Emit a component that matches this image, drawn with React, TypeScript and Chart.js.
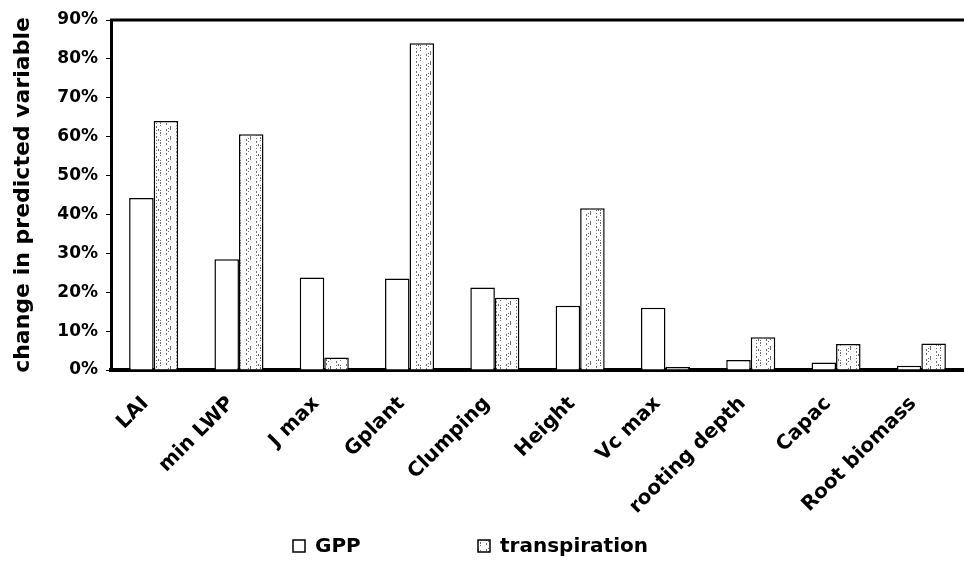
import React, { useEffect, useRef } from "react";
import { Chart, registerables } from "chart.js";

Chart.register(...registerables);

const categories = [
  "LAI",
  "min LWP",
  "J max",
  "Gplant",
  "Clumping",
  "Height",
  "Vc max",
  "rooting depth",
  "Capac",
  "Root biomass",
];
const gppValues = [44.2, 28.5, 23.8, 23.5, 21.2, 16.5, 16.0, 2.6, 1.9, 1.1];
const transpirationValues = [64.0, 60.6, 3.2, 84.0, 18.6, 41.6, 0.8, 8.4, 6.7, 6.8];
const seriesLabels = ["GPP", "transpiration"];
const yMin = 0;
const yMax = 90;
const yStep = 10;
const yTitle = "change in predicted variable";

const FONT = '"DejaVu Sans", "Liberation Sans", Arial, sans-serif';

function makeStipple(): CanvasPattern | string {
  const size = 40;
  const c = document.createElement("canvas");
  c.width = size;
  c.height = size;
  const g = c.getContext("2d");
  if (!g) return "#e0e0e0";
  g.fillStyle = "#ffffff";
  g.fillRect(0, 0, size, size);
  g.fillStyle = "#707070";
  for (let i = 0; i < 170; i++) {
    const x = (i * 37 + i * i * 13) % size;
    const y = (i * 71 + i * i * 7 + (i >> 2)) % size;
    g.fillRect(x, y, 1, 1);
  }
  return g.createPattern(c, "repeat") || "#e0e0e0";
}

export default function App() {
  const ref = useRef<HTMLCanvasElement | null>(null);

  useEffect(() => {
    document.body.style.margin = "0";
    const canvas = ref.current;
    if (!canvas) return;
    const stipple = makeStipple();

    const framePlugin = {
      id: "frameAndLegend",
      afterDraw(chart: any) {
        const ctx = chart.ctx;
        const area = chart.chartArea;
        ctx.save();
        // top border of the plot frame
        ctx.strokeStyle = "#000";
        ctx.lineWidth = 3;
        ctx.beginPath();
        ctx.moveTo(area.left - 1, area.top);
        ctx.lineTo(chart.width, area.top);
        ctx.stroke();

        // legend
        const cx = chart.width / 2;
        const baseY = chart.height - 14;
        const box = 12;
        ctx.font = `bold 20px ${FONT}`;
        ctx.textBaseline = "alphabetic";
        ctx.textAlign = "left";
        ctx.fillStyle = "#000";
        const items = [
          { x: cx - 189, fill: "#ffffff" as any, label: seriesLabels[0] },
          { x: cx - 4, fill: stipple as any, label: seriesLabels[1] },
        ];
        items.forEach((it) => {
          ctx.fillStyle = it.fill;
          ctx.fillRect(it.x, baseY - box, box, box);
          ctx.lineWidth = 1.5;
          ctx.strokeStyle = "#000";
          ctx.strokeRect(it.x, baseY - box, box, box);
          ctx.fillStyle = "#000";
          ctx.fillText(it.label, it.x + box + 10, baseY);
        });
        ctx.restore();
      },
    };

    const chart = new Chart(canvas, {
      type: "bar",
      data: {
        labels: categories,
        datasets: [
          {
            label: seriesLabels[0],
            data: gppValues,
            backgroundColor: "#ffffff",
            borderColor: "#000000",
            borderWidth: 1.5,
            categoryPercentage: 0.575,
            barPercentage: 1.0,
          },
          {
            label: seriesLabels[1],
            data: transpirationValues,
            backgroundColor: stipple as any,
            borderColor: "#000000",
            borderWidth: 1.5,
            categoryPercentage: 0.575,
            barPercentage: 1.0,
          },
        ],
      },
      options: {
        responsive: false,
        animation: false,
        devicePixelRatio: 1,
        layout: { padding: { top: 20, right: 0, bottom: 46, left: 0 } },
        plugins: {
          legend: { display: false },
          tooltip: { enabled: false },
        },
        scales: {
          x: {
            grid: { display: false, drawTicks: false },
            border: { display: true, color: "#000", width: 4 },
            ticks: {
              autoSkip: false,
              maxRotation: 45,
              minRotation: 45,
              color: "#000",
              padding: 22,
              labelOffset: -8,
              font: { family: FONT, size: 20, weight: "bold" },
            },
            afterFit: (s: any) => {
              s.height = 150;
              s.paddingRight = 0;
              s.paddingLeft = 0;
            },
          },
          y: {
            min: yMin,
            max: yMax,
            ticks: {
              stepSize: yStep,
              color: "#000",
              padding: 8,
              font: { family: FONT, size: 17, weight: "bold" },
              callback: (v: any) => `${v}%`,
            },
            grid: {
              display: true,
              drawOnChartArea: false,
              drawTicks: true,
              tickLength: 5,
              color: "#000",
              lineWidth: 1,
            },
            border: { display: true, color: "#000", width: 3 },
            title: {
              display: true,
              text: yTitle,
              color: "#000",
              font: { family: FONT, size: 22, weight: "bold" },
              padding: { top: 10, bottom: 0 },
            },
            afterFit: (s: any) => {
              s.width = 111;
            },
          },
        },
      },
      plugins: [framePlugin],
    });

    return () => chart.destroy();
  }, []);

  return (
    <div style={{ width: 964, height: 566, position: "relative", background: "#fff" }}>
      <canvas ref={ref} width={964} height={566} />
    </div>
  );
}
